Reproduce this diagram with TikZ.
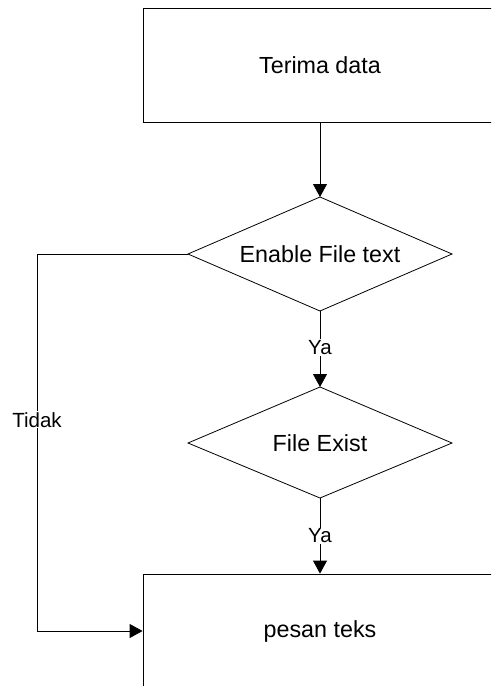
\documentclass[tikz,border=0pt]{standalone}
\usepackage{fontspec}
\setmainfont{Liberation Sans}
\usetikzlibrary{arrows.meta}
\begin{document}
\begin{tikzpicture}[x=1pt,y=1pt,
  every node/.style={font=\fontsize{23.3}{28}\selectfont},
  procbox/.style={draw,line width=0.8pt,rectangle,minimum width=354pt,minimum height=114pt,inner sep=0pt},
  decline/.style={line width=0.8pt},
  conn/.style={line width=0.8pt},
  arr/.style={conn,-{Triangle[length=13pt,width=14pt]}},
  lbl/.style={fill=white,inner sep=1pt,font=\fontsize{20.5}{24}\selectfont}]
\useasboundingbox (0,0) rectangle (491,-686);
\clip (0,0) rectangle (491,-686);
\node[procbox] (b1) at (320,-65) {Terima data};
% decision 1
\node (d1) at (320,-254) {Enable File text};
\coordinate (d1n) at (320,-197);
\coordinate (d1s) at (320,-311);
\coordinate (d1w) at (188,-254);
\coordinate (d1e) at (452,-254);
\draw[decline] (d1n) -- (d1e) -- (d1s) -- (d1w) -- cycle;
% decision 2
\node (d2) at (320,-443) {File Exist};
\coordinate (d2n) at (320,-387);
\coordinate (d2s) at (320,-498);
\coordinate (d2w) at (188,-443);
\coordinate (d2e) at (452,-443);
\draw[decline] (d2n) -- (d2e) -- (d2s) -- (d2w) -- cycle;
\node[procbox] (b2) at (320,-631) {pesan teks};
\coordinate (c1) at (37,-254);
\coordinate (c2) at (37,-631);
\draw[arr] (b1.south) -- (d1n);
\draw[arr] (d1s) -- node[lbl,pos=0.48] {Ya} (d2n);
\draw[arr] (d2s) -- node[lbl,pos=0.5] {Ya} (b2.north);
\draw[conn] (d1w) -- (c1) -- node[lbl,pos=0.44] {Tidak} (c2);
\draw[arr] (c2) -- (b2.west);
\end{tikzpicture}
\end{document}
